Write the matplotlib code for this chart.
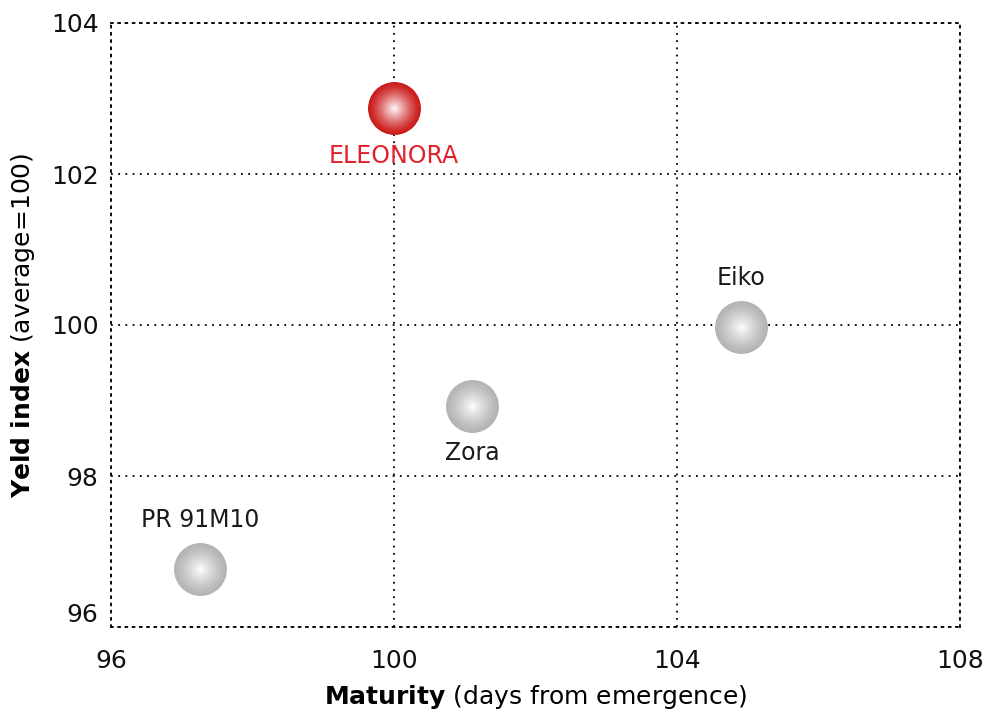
import matplotlib
matplotlib.use("Agg")
import matplotlib.pyplot as plt
import numpy as np
from matplotlib.colors import to_rgb

# data
names = ["ELEONORA", "Eiko", "Zora", "PR 91M10"]
maturity = [100.0, 104.9, 101.1, 97.26]
yield_index = [102.87, 99.98, 98.93, 96.77]
highlight = [True, False, False, False]
label_pos = ["below", "above", "below", "above"]

x_ticks = [96, 100, 104, 108]
y_ticks = [96, 98, 100, 102, 104]

plt.rcParams["font.family"] = ["DejaVu Sans"]
plt.rcParams["mathtext.fontset"] = "custom"
plt.rcParams["mathtext.bf"] = "DejaVu Sans:bold"
plt.rcParams["mathtext.rm"] = "DejaVu Sans"

fig = plt.figure(figsize=(9.84, 7.13), dpi=100)
ax = fig.add_axes([111 / 984, 1 - 627 / 713, 849 / 984, 604 / 713])

dotted = (0, (1, 3))
ax.set_xlim(96, 108)
ax.set_ylim(96, 104)
ax.set_xticks(x_ticks)
ax.set_yticks(y_ticks)
ax.grid(True, color="black", linestyle=dotted, linewidth=1.3)
ax.set_axisbelow(True)
for sp in ax.spines.values():
    sp.set_linestyle(dotted)
    sp.set_linewidth(1.3)
ax.tick_params(length=0, labelsize=18, labelcolor="#111111")
ax.tick_params(axis="x", pad=16)
ax.tick_params(axis="y", pad=9)
ax.get_yticklabels()[0].set_va("bottom")


def sphere(x, y, edge, size=1450, layers=40):
    edge = np.array(to_rgb(edge))
    white = np.ones(3)
    for i in range(layers):
        r = 1 - i / layers
        # brightness ramps up toward the centre
        t = (1 - r) ** 1.3
        col = edge + (white - edge) * t
        ax.scatter([x], [y], s=size * r * r, color=col, linewidths=0, zorder=3 + i * 0.01)


for x, y, name, hl, pos in zip(maturity, yield_index, names, highlight, label_pos):
    sphere(x, y, "#cc1a1a" if hl else "#b4b4b4")
    dy = -34 if pos == "below" else 35
    ax.annotate(name, (x, y), xytext=(0, dy), textcoords="offset points",
                ha="center", va="center", fontsize=17,
                color="#e4202c" if hl else "#1a1a1a")

ax.set_xlabel(r"$\bf{Maturity}$ (days from emergence)", fontsize=18, labelpad=7)
ax.set_ylabel(r"$\bf{Yeld\ index}$ (average=100)", fontsize=18, labelpad=10)

fig.savefig("out.png", dpi=100)
